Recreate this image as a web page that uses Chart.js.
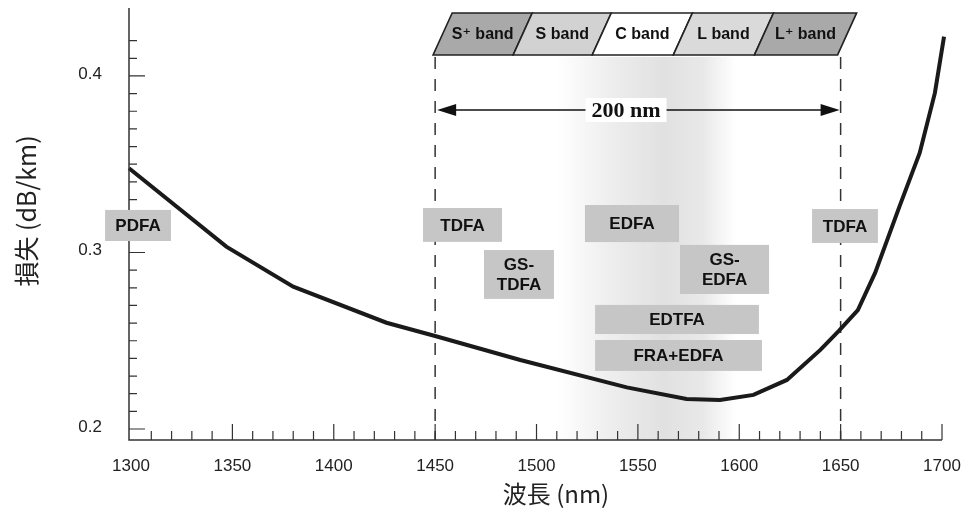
<!DOCTYPE html>
<html lang="ja">
<head>
<meta charset="UTF-8">
<title>損失スペクトル</title>
<script src="https://cdn.jsdelivr.net/npm/chart.js"></script>
<style>
  body { margin: 0; background: #fff; }
  #chart-container { width: 967px; height: 512px; }
</style>
</head>
<body>
<div id="chart-container"><canvas id="lossChart"></canvas></div>
<script>
// 波長 (nm) / 損失 (dB/km)
const wavelength = [1299, 1347, 1380, 1426, 1450, 1492, 1544.5, 1574, 1590.5, 1607, 1623.5, 1640, 1649, 1658.5, 1667, 1679, 1689, 1696.5, 1701];
const loss = [0.3477, 0.3033, 0.2806, 0.2602, 0.2527, 0.2391, 0.2236, 0.2170, 0.2164, 0.2193, 0.2278, 0.2448, 0.2555, 0.2674, 0.2884, 0.3260, 0.3564, 0.3904, 0.4223];

const xTickLabels = [1300, 1350, 1400, 1450, 1500, 1550, 1600, 1650, 1700];
const yTickLabels = [0.2, 0.3, 0.4];

// transmission bands, edges in nm
const bandNames = ['S⁺ band', 'S band', 'C band', 'L band', 'L⁺ band'];
const bandEdges = [1449, 1488.5, 1527.5, 1567.5, 1607.5, 1648.5];
const bandFills = ['#a9a9a9', '#d2d2d2', '#ffffff', '#dadada', '#a9a9a9'];

// amplifiers
const ampNames = [['PDFA'], ['TDFA'], ['GS-', 'TDFA'], ['EDFA'], ['GS-', 'EDFA'], ['EDTFA'], ['FRA+EDFA'], ['TDFA']];
// box placement: [nm from, nm to, value top, value bottom]
const ampBoxes = [
  [1287.2, 1319.7, 0.3241, 0.3065],
  [1444.0, 1483.0, 0.3252, 0.3060],
  [1474.1, 1508.6, 0.3014, 0.2737],
  [1523.9, 1570.3, 0.3269, 0.3059],
  [1570.8, 1614.7, 0.3043, 0.2765],
  [1528.9, 1609.7, 0.2703, 0.2538],
  [1528.9, 1611.2, 0.2504, 0.2329],
  [1635.9, 1668.4, 0.3246, 0.3054]
];

const bandTop = 0.4357, bandBottom = 0.4119, bandSlant = 9.4;
const arrowValue = 0.3807;
const sansFont = 'Arial, "Liberation Sans", "DejaVu Sans", sans-serif';

const overlay = {
  id: 'overlay',
  beforeDatasetsDraw(chart) {
    const { ctx, chartArea, scales: { x, y } } = chart;
    ctx.save();
    // soft grey column behind the C band
    const x0 = x.getPixelForValue(1510), x1 = x.getPixelForValue(1598);
    const g = ctx.createLinearGradient(x0, 0, x1, 0);
    g.addColorStop(0, 'rgba(205,205,205,0)');
    g.addColorStop(0.3, 'rgba(205,205,205,0.35)');
    g.addColorStop(0.6, 'rgba(200,200,200,0.55)');
    g.addColorStop(0.82, 'rgba(205,205,205,0.45)');
    g.addColorStop(1, 'rgba(205,205,205,0)');
    ctx.fillStyle = g;
    const top = y.getPixelForValue(bandBottom) + 2;
    ctx.fillRect(x0, top, x1 - x0, chartArea.bottom - top);

    // dashed limits of the 200 nm window
    ctx.strokeStyle = '#333';
    ctx.lineWidth = 1.5;
    ctx.setLineDash([12, 10]);
    [1450, 1650].forEach(v => {
      const px = x.getPixelForValue(v);
      ctx.beginPath();
      ctx.moveTo(px, top);
      ctx.lineTo(px, chartArea.bottom);
      ctx.stroke();
    });
    ctx.setLineDash([]);
    ctx.restore();
  },
  afterDatasetsDraw(chart) {
    const { ctx, chartArea, scales: { x, y } } = chart;
    const L = chartArea.left, B = chartArea.bottom;
    ctx.save();

    // axes
    ctx.strokeStyle = '#333';
    ctx.lineWidth = 1.5;
    ctx.beginPath();
    ctx.moveTo(L, chartArea.top);
    ctx.lineTo(L, B);
    ctx.lineTo(chartArea.right, B);
    ctx.stroke();

    // inward ticks
    ctx.lineWidth = 1.2;
    ctx.beginPath();
    for (let v = 1310; v <= 1700; v += 10) {
      const px = x.getPixelForValue(v);
      const len = v % 50 === 0 ? 16 : 9;
      ctx.moveTo(px, B);
      ctx.lineTo(px, B - len);
    }
    for (let i = 20; i <= 42; i++) {
      const py = y.getPixelForValue(i / 100);
      const len = i % 10 === 0 ? 16 : 8;
      ctx.moveTo(L, py);
      ctx.lineTo(L + len, py);
    }
    ctx.stroke();

    // tick labels
    ctx.fillStyle = '#222';
    ctx.font = '17px ' + sansFont;
    ctx.textAlign = 'center';
    ctx.textBaseline = 'middle';
    xTickLabels.forEach(v => ctx.fillText(String(v), x.getPixelForValue(v), B + 26));
    ctx.textAlign = 'right';
    yTickLabels.forEach(v => ctx.fillText(v.toFixed(1), L - 27, y.getPixelForValue(v) - 2));

    // axis titles
    ctx.font = '24px "Noto Sans CJK JP", ' + sansFont;
    ctx.textAlign = 'center';
    ctx.fillText('波長 (nm)', 556, 494);
    ctx.save();
    ctx.translate(26, 211);
    ctx.rotate(-Math.PI / 2);
    ctx.font = '25px "Noto Sans CJK JP", ' + sansFont;
    ctx.fillText('損失 (dB/km)', 0, 0);
    ctx.restore();

    // amplifier boxes
    ctx.font = 'bold 17px ' + sansFont;
    ampBoxes.forEach((b, i) => {
      const bx0 = x.getPixelForValue(b[0]), bx1 = x.getPixelForValue(b[1]);
      const by0 = y.getPixelForValue(b[2]), by1 = y.getPixelForValue(b[3]);
      ctx.fillStyle = '#c6c6c6';
      ctx.fillRect(bx0, by0, bx1 - bx0, by1 - by0);
      ctx.fillStyle = '#111';
      const lines = ampNames[i];
      const cy = (by0 + by1) / 2, cx = (bx0 + bx1) / 2;
      lines.forEach((t, k) => ctx.fillText(t, cx, cy + (k - (lines.length - 1) / 2) * 20 + 1));
    });

    // band strip
    const ty = y.getPixelForValue(bandTop), byy = y.getPixelForValue(bandBottom);
    const slant = x.getPixelForValue(bandEdges[0] + bandSlant) - x.getPixelForValue(bandEdges[0]);
    ctx.lineWidth = 1.6;
    ctx.strokeStyle = '#222';
    ctx.font = 'bold 16px ' + sansFont;
    bandNames.forEach((name, i) => {
      const a = x.getPixelForValue(bandEdges[i]), c = x.getPixelForValue(bandEdges[i + 1]);
      ctx.beginPath();
      ctx.moveTo(a, byy);
      ctx.lineTo(a + slant, ty);
      ctx.lineTo(c + slant, ty);
      ctx.lineTo(c, byy);
      ctx.closePath();
      ctx.fillStyle = bandFills[i];
      ctx.fill();
      ctx.stroke();
      ctx.fillStyle = '#111';
      ctx.fillText(name, (a + c) / 2 + slant / 2, (ty + byy) / 2 + 1);
    });

    // 200 nm arrow
    const ax0 = x.getPixelForValue(1450) + 2, ax1 = x.getPixelForValue(1650) - 1;
    const ay = y.getPixelForValue(arrowValue);
    ctx.strokeStyle = '#111';
    ctx.fillStyle = '#111';
    ctx.lineWidth = 1.5;
    ctx.beginPath();
    ctx.moveTo(ax0 + 10, ay);
    ctx.lineTo(ax1 - 10, ay);
    ctx.stroke();
    ctx.beginPath();
    ctx.moveTo(ax0, ay); ctx.lineTo(ax0 + 19, ay - 6); ctx.lineTo(ax0 + 19, ay + 6); ctx.closePath();
    ctx.moveTo(ax1, ay); ctx.lineTo(ax1 - 19, ay - 6); ctx.lineTo(ax1 - 19, ay + 6); ctx.closePath();
    ctx.fill();
    ctx.font = 'bold 22px "Liberation Serif", "Times New Roman", serif';
    const label = '200 nm';
    const lx = 626, w = ctx.measureText(label).width;
    ctx.fillStyle = '#fff';
    ctx.fillRect(lx - w / 2 - 6, ay - 12, w + 12, 24);
    ctx.fillStyle = '#111';
    ctx.fillText(label, lx, ay + 1);

    ctx.restore();
  }
};

new Chart(document.getElementById('lossChart'), {
  type: 'line',
  data: {
    datasets: [{
      label: '損失',
      data: wavelength.map((w, i) => ({ x: w, y: loss[i] })),
      borderColor: '#1a1a1a',
      borderWidth: 4,
      tension: 0,
      pointRadius: 0,
      fill: false,
      clip: false
    }]
  },
  options: {
    responsive: true,
    maintainAspectRatio: false,
    animation: false,
    layout: { padding: { left: 129, top: 8, right: 25, bottom: 72 } },
    plugins: { legend: { display: false }, tooltip: { enabled: false } },
    scales: {
      x: { type: 'linear', min: 1299, max: 1700, display: false },
      y: { type: 'linear', min: 0.19377, max: 0.4385, display: false }
    }
  },
  plugins: [overlay]
});
</script>
</body>
</html>
